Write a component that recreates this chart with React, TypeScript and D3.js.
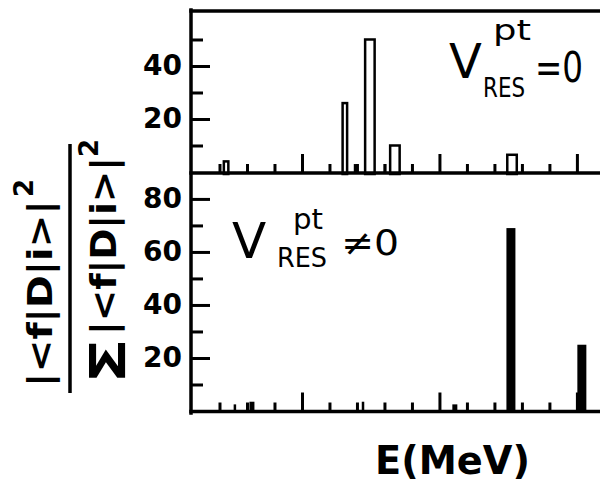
import React, { useEffect, useRef } from "react";
import * as d3 from "d3";

const W = 600;
const H = 488;

// Dipole strength distribution, residual interaction switched off
const freeEnergies = [1.24, 5.56, 5.93, 6.47, 7.02, 7.38, 11.64];
const freeStrengths = [4, 26, 3, 50, 3, 10, 6.5];
const freeKinds = ["narrow", "narrow", "spike", "wide", "spike", "wide", "wide"];

// Dipole strength distribution with the residual interaction
const mixedEnergies = [1.56, 2.18, 6.22, 9.56, 11.6, 14.18];
const mixedStrengths = [2.5, 3.5, 3.5, 2.5, 69, 25];
const mixedKinds = ["spike", "narrow", "spike", "narrow", "wide", "wide"];

// Axis ticks
const energyMinorTicks = [1, 2, 3, 5, 6, 7, 8, 10, 11, 12, 13];
const energyMajorTicks = [4, 9, 14];
const topMinorTicks = [10, 30, 50];
const topMajorTicks = [20, 40];
const bottomMinorTicks = [10, 30, 50, 70];
const bottomMajorTicks = [20, 40, 60, 80];

const FONT = "'DejaVu Sans', sans-serif";
const AXIS_X = 191;
const RIGHT = 600;

const xScale = d3.scaleLinear().domain([0, 14.84]).range([192, RIGHT]);
const yTop = d3.scaleLinear().domain([0, 60.75]).range([172, 11]);
const yBottom = d3.scaleLinear().domain([0, 89.4]).range([411, 174]);

const openWidth: Record<string, number> = { spike: 2.5, narrow: 4.5, wide: 9.5 };
const solidWidth: Record<string, number> = { spike: 2.5, narrow: 5, wide: 9 };

function styleAxis(g: d3.Selection<SVGGElement, unknown, null, undefined>) {
  g.select(".domain").remove();
  g.selectAll(".tick line").attr("stroke", "#000").attr("stroke-width", 3);
}

export default function App() {
  const topX = useRef<SVGGElement>(null);
  const botX = useRef<SVGGElement>(null);
  const topY = useRef<SVGGElement>(null);
  const botY = useRef<SVGGElement>(null);

  useEffect(() => {
    const drawX = (node: SVGGElement | null) => {
      if (!node) return;
      const g = d3.select(node);
      g.selectAll("*").remove();
      const minor = g.append("g").call(
        d3.axisBottom(xScale).tickValues(energyMinorTicks).tickSize(-9).tickFormat(() => "")
      );
      const major = g.append("g").call(
        d3.axisBottom(xScale).tickValues(energyMajorTicks).tickSize(-19).tickFormat(() => "")
      );
      styleAxis(minor as any);
      styleAxis(major as any);
    };
    drawX(topX.current);
    drawX(botX.current);

    const drawY = (
      node: SVGGElement | null,
      scale: d3.ScaleLinear<number, number>,
      minorTicks: number[],
      majorTicks: number[]
    ) => {
      if (!node) return;
      const g = d3.select(node);
      g.selectAll("*").remove();
      const minor = g.append("g").call(
        d3.axisLeft(scale).tickValues(minorTicks).tickSize(-12).tickFormat(() => "")
      );
      const major = g.append("g").call(
        d3.axisLeft(scale).tickValues(majorTicks).tickSize(-19).tickPadding(9).tickFormat(d3.format("d"))
      );
      styleAxis(minor as any);
      styleAxis(major as any);
      major
        .selectAll("text")
        .attr("fill", "#000")
        .attr("font-family", FONT)
        .attr("font-weight", "bold")
        .attr("font-size", 28);
    };
    drawY(topY.current, yTop, topMinorTicks, topMajorTicks);
    drawY(botY.current, yBottom, bottomMinorTicks, bottomMajorTicks);
  }, []);

  return (
    <svg
      width={W}
      height={H}
      viewBox={`0 0 ${W} ${H}`}
      style={{ position: "absolute", left: 0, top: 0, background: "#fff" }}
    >
      <rect x={0} y={0} width={W} height={H} fill="#fff" />

      {/* upper panel bars: open outlines */}
      <g>
        {freeEnergies.map((e, i) => {
          const w = openWidth[freeKinds[i]];
          const y0 = yTop(0);
          const y1 = yTop(freeStrengths[i]);
          return freeKinds[i] === "spike" ? (
            <rect key={i} x={xScale(e) - w / 2} y={y1} width={w} height={y0 - y1} fill="#000" />
          ) : (
            <rect
              key={i}
              x={xScale(e) - w / 2}
              y={y1}
              width={w}
              height={y0 - y1 + 2}
              fill="#fff"
              stroke="#000"
              strokeWidth={2.5}
            />
          );
        })}
      </g>

      {/* lower panel bars: solid */}
      <g>
        {mixedEnergies.map((e, i) => {
          const w = solidWidth[mixedKinds[i]];
          const y0 = yBottom(0);
          const y1 = yBottom(mixedStrengths[i]);
          return <rect key={i} x={xScale(e) - w / 2} y={y1} width={w} height={y0 - y1} fill="#000" />;
        })}
      </g>

      {/* frame */}
      <g stroke="#000" strokeWidth={3.5} fill="none" strokeLinecap="square">
        <line x1={AXIS_X} y1={11} x2={RIGHT} y2={11} />
        <line x1={AXIS_X} y1={173} x2={RIGHT} y2={173} />
        <line x1={AXIS_X} y1={411.5} x2={RIGHT} y2={411.5} />
        <line x1={AXIS_X} y1={10} x2={AXIS_X} y2={413} />
      </g>

      <g ref={topX} transform="translate(0,173)" />
      <g ref={botX} transform="translate(0,411.5)" />
      <g ref={topY} transform={`translate(${AXIS_X},0)`} />
      <g ref={botY} transform={`translate(${AXIS_X},0)`} />

      {/* panel annotations */}
      <g fontFamily={FONT} fill="#000">
        <text x={449} y={78} fontSize={48}>V</text>
        <text x={493} y={40} fontSize={28} textLength={38} lengthAdjust="spacingAndGlyphs">pt</text>
        <text x={483} y={97} fontSize={26} textLength={42} lengthAdjust="spacingAndGlyphs">RES</text>
        <text x={535} y={82} fontSize={42} textLength={48} lengthAdjust="spacingAndGlyphs">=0</text>

        <text x={232} y={258} fontSize={50}>V</text>
        <text x={293} y={229} fontSize={28} textLength={30} lengthAdjust="spacingAndGlyphs">pt</text>
        <text x={277} y={267} fontSize={26} textLength={50} lengthAdjust="spacingAndGlyphs">RES</text>
        <text x={341} y={255} fontSize={36} textLength={58} lengthAdjust="spacingAndGlyphs">≠0</text>
      </g>

      {/* y-axis quantity: transition strength fraction */}
      <g fontFamily={FONT} fontWeight="bold" fill="#000">
        <text transform="translate(52,387) rotate(-90)" fontSize={33} textLength={187} lengthAdjust="spacingAndGlyphs">
          |&lt;f|D|i&gt;|
        </text>
        <text transform="translate(33,197) rotate(-90)" fontSize={26}>2</text>
        <line x1={70} y1={144} x2={70} y2={393} stroke="#000" strokeWidth={3.5} />
        <text transform="translate(125,384) rotate(-90)" fontSize={50} textLength={46} lengthAdjust="spacingAndGlyphs">Σ</text>
        <text transform="translate(116,335) rotate(-90)" fontSize={36} textLength={178} lengthAdjust="spacingAndGlyphs">
          |&lt;f|D|i&gt;|
        </text>
        <text transform="translate(98,157) rotate(-90)" fontSize={26}>2</text>
      </g>

      {/* x-axis quantity */}
      <text
        x={375}
        y={474}
        fontFamily={FONT}
        fontWeight="bold"
        fontSize={39}
        textLength={155}
        lengthAdjust="spacingAndGlyphs"
        fill="#000"
      >
        E(MeV)
      </text>
    </svg>
  );
}
